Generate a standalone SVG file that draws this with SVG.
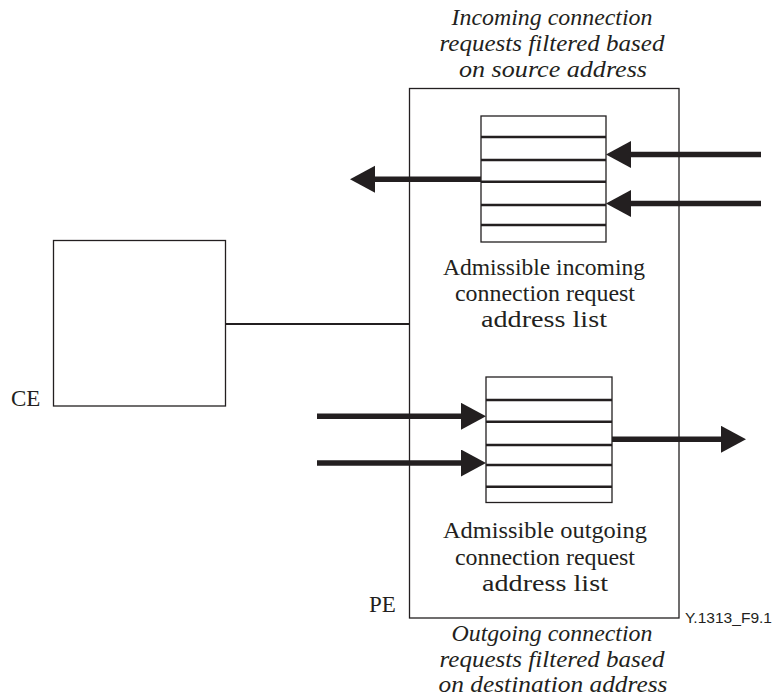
<svg xmlns="http://www.w3.org/2000/svg" width="773" height="700" viewBox="0 0 773 700">
  <style>
    .frame { fill: #ffffff; stroke: #231f20; stroke-width: 1.3; }
    .row { stroke: #231f20; stroke-width: 2.4; }
    .link { stroke: #231f20; stroke-width: 2; fill: none; }
    .flow { stroke: #231f20; stroke-width: 5.5; fill: none; marker-end: url(#head); }
    .label { font-family: "Liberation Serif", "Times New Roman", serif; font-size: 23px; fill: #231f20; text-anchor: middle; }
    .note { font-family: "Liberation Serif", "Times New Roman", serif; font-size: 23px; font-style: italic; fill: #231f20; text-anchor: middle; }
    .tag { font-family: "Liberation Serif", "Times New Roman", serif; font-size: 23px; fill: #231f20; }
    .ref { font-family: "Liberation Sans", Arial, sans-serif; font-size: 15px; fill: #231f20; }
  </style>
  <defs>
    <marker id="head" markerUnits="userSpaceOnUse" markerWidth="26" markerHeight="28" refX="0" refY="13.5" orient="auto">
      <path d="M0,0 L25,13.5 L0,27 Z" fill="#231f20"/>
    </marker>
  </defs>

  <rect width="773" height="700" fill="#ffffff"/>

  <!-- Provider edge -->
  <g id="pe">
    <rect class="frame" x="409.5" y="88.5" width="269.5" height="529.5"/>
    <text class="tag" x="369" y="612">PE</text>
  </g>

  <!-- Customer edge -->
  <g id="ce">
    <rect class="frame" x="53.5" y="240.5" width="172" height="165.5"/>
    <text class="tag" x="11" y="406">CE</text>
  </g>

  <!-- Incoming address list -->
  <g id="incoming-list">
    <rect class="frame" x="481" y="116" width="125" height="126"/>
    <line class="row" x1="481" y1="137" x2="606" y2="137"/>
    <line class="row" x1="481" y1="160" x2="606" y2="160"/>
    <line class="row" x1="481" y1="181.7" x2="606" y2="181.7"/>
    <line class="row" x1="481" y1="205" x2="606" y2="205"/>
    <line class="row" x1="481" y1="225" x2="606" y2="225"/>
    <text class="label" x="544" y="275" textLength="202" lengthAdjust="spacingAndGlyphs">Admissible incoming</text>
    <text class="label" x="545" y="301" textLength="180" lengthAdjust="spacingAndGlyphs">connection request</text>
    <text class="label" x="544" y="327" textLength="126" lengthAdjust="spacingAndGlyphs">address list</text>
  </g>

  <!-- Outgoing address list -->
  <g id="outgoing-list">
    <rect class="frame" x="486" y="377" width="126" height="125.5"/>
    <line class="row" x1="486" y1="400" x2="612" y2="400"/>
    <line class="row" x1="486" y1="421.7" x2="612" y2="421.7"/>
    <line class="row" x1="486" y1="445" x2="612" y2="445"/>
    <line class="row" x1="486" y1="465" x2="612" y2="465"/>
    <line class="row" x1="486" y1="486.7" x2="612" y2="486.7"/>
    <text class="label" x="545" y="538" textLength="204" lengthAdjust="spacingAndGlyphs">Admissible outgoing</text>
    <text class="label" x="545" y="565" textLength="180" lengthAdjust="spacingAndGlyphs">connection request</text>
    <text class="label" x="545" y="591" textLength="126" lengthAdjust="spacingAndGlyphs">address list</text>
  </g>

  <!-- Filter captions -->
  <g id="incoming-caption">
    <text class="note" x="552" y="25" textLength="201" lengthAdjust="spacingAndGlyphs">Incoming connection</text>
    <text class="note" x="552" y="51" textLength="225" lengthAdjust="spacingAndGlyphs">requests filtered based</text>
    <text class="note" x="553" y="77" textLength="188" lengthAdjust="spacingAndGlyphs">on source address</text>
  </g>
  <g id="outgoing-caption">
    <text class="note" x="552" y="641" textLength="201" lengthAdjust="spacingAndGlyphs">Outgoing connection</text>
    <text class="note" x="552" y="667" textLength="225" lengthAdjust="spacingAndGlyphs">requests filtered based</text>
    <text class="note" x="553" y="692" textLength="229" lengthAdjust="spacingAndGlyphs">on destination address</text>
  </g>

  <text class="ref" x="685" y="623" textLength="87" lengthAdjust="spacingAndGlyphs">Y.1313_F9.1</text>

  <!-- Connectors -->
  <g id="connectors">
    <line class="link" x1="225.5" y1="324" x2="409.5" y2="324"/>
    <line class="flow" x1="481" y1="179.3" x2="375" y2="179.3"/>
    <line class="flow" x1="761" y1="154.5" x2="631" y2="154.5"/>
    <line class="flow" x1="761" y1="203.5" x2="631" y2="203.5"/>
    <line class="flow" x1="317" y1="416.3" x2="461" y2="416.3"/>
    <line class="flow" x1="317" y1="463" x2="461" y2="463"/>
    <line class="flow" x1="612" y1="439.3" x2="721" y2="439.3"/>
  </g>
</svg>
